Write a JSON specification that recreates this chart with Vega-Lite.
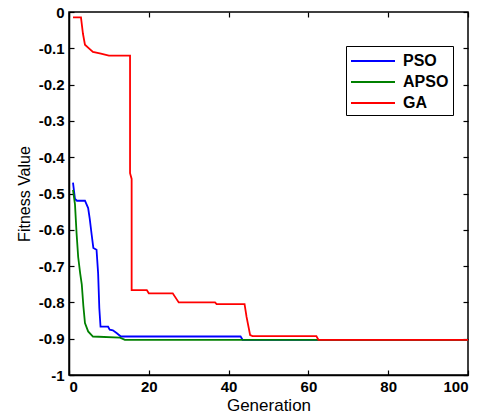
{
  "$schema": "https://vega.github.io/schema/vega-lite/v6.json",
  "autosize": {"type": "none"},
  "padding": {"left": 69, "top": 12, "right": 14, "bottom": 43},
  "width": 399,
  "height": 363,
  "background": "white",
  "config": {
    "view": {"stroke": "black", "strokeWidth": 1.5},
    "font": "Arial",
    "axis": {"grid": false, "domainColor": "black", "domainWidth": 1.5, "tickColor": "black", "labelColor": "black", "titleColor": "black", "labelFont": "Arial", "titleFont": "Arial", "labelFontSize": 15, "labelFontWeight": "bold", "titleFontSize": 16, "titleFontWeight": "normal", "tickSize": -5, "tickWidth": 1.2}
  },
  "data": {"values": [
    {"s": "PSO", "i": 1, "g": 1, "v": -0.47},
    {"s": "PSO", "i": 2, "g": 1.5, "v": -0.515},
    {"s": "PSO", "i": 3, "g": 2, "v": -0.52},
    {"s": "PSO", "i": 4, "g": 4, "v": -0.52},
    {"s": "PSO", "i": 5, "g": 4.8, "v": -0.54},
    {"s": "PSO", "i": 6, "g": 5.2, "v": -0.57},
    {"s": "PSO", "i": 7, "g": 5.7, "v": -0.615},
    {"s": "PSO", "i": 8, "g": 6.1, "v": -0.65},
    {"s": "PSO", "i": 9, "g": 6.9, "v": -0.655},
    {"s": "PSO", "i": 10, "g": 7.3, "v": -0.72},
    {"s": "PSO", "i": 11, "g": 7.6, "v": -0.816},
    {"s": "PSO", "i": 12, "g": 7.9, "v": -0.867},
    {"s": "PSO", "i": 13, "g": 9.8, "v": -0.867},
    {"s": "PSO", "i": 14, "g": 10.2, "v": -0.875},
    {"s": "PSO", "i": 15, "g": 11, "v": -0.877},
    {"s": "PSO", "i": 16, "g": 12, "v": -0.885},
    {"s": "PSO", "i": 17, "g": 13, "v": -0.894},
    {"s": "PSO", "i": 18, "g": 43, "v": -0.894},
    {"s": "PSO", "i": 19, "g": 43.5, "v": -0.903},
    {"s": "PSO", "i": 20, "g": 100, "v": -0.903},
    {"s": "APSO", "i": 1, "g": 1, "v": -0.49},
    {"s": "APSO", "i": 2, "g": 1.5, "v": -0.53},
    {"s": "APSO", "i": 3, "g": 1.9, "v": -0.61},
    {"s": "APSO", "i": 4, "g": 2.3, "v": -0.675},
    {"s": "APSO", "i": 5, "g": 2.8, "v": -0.72},
    {"s": "APSO", "i": 6, "g": 3.2, "v": -0.75},
    {"s": "APSO", "i": 7, "g": 3.6, "v": -0.81},
    {"s": "APSO", "i": 8, "g": 4, "v": -0.857},
    {"s": "APSO", "i": 9, "g": 4.8, "v": -0.88},
    {"s": "APSO", "i": 10, "g": 6, "v": -0.894},
    {"s": "APSO", "i": 11, "g": 12.8, "v": -0.897},
    {"s": "APSO", "i": 12, "g": 14, "v": -0.903},
    {"s": "APSO", "i": 13, "g": 100, "v": -0.903},
    {"s": "GA", "i": 1, "g": 1, "v": -0.015},
    {"s": "GA", "i": 2, "g": 3, "v": -0.015},
    {"s": "GA", "i": 3, "g": 3.5, "v": -0.06},
    {"s": "GA", "i": 4, "g": 4, "v": -0.09},
    {"s": "GA", "i": 5, "g": 5, "v": -0.1},
    {"s": "GA", "i": 6, "g": 6, "v": -0.11},
    {"s": "GA", "i": 7, "g": 8, "v": -0.115},
    {"s": "GA", "i": 8, "g": 10, "v": -0.12},
    {"s": "GA", "i": 9, "g": 15.3, "v": -0.12},
    {"s": "GA", "i": 10, "g": 15.3, "v": -0.444},
    {"s": "GA", "i": 11, "g": 15.7, "v": -0.46},
    {"s": "GA", "i": 12, "g": 15.7, "v": -0.766},
    {"s": "GA", "i": 13, "g": 19.5, "v": -0.766},
    {"s": "GA", "i": 14, "g": 20, "v": -0.775},
    {"s": "GA", "i": 15, "g": 26, "v": -0.775},
    {"s": "GA", "i": 16, "g": 27.5, "v": -0.8},
    {"s": "GA", "i": 17, "g": 36.6, "v": -0.8},
    {"s": "GA", "i": 18, "g": 37, "v": -0.805},
    {"s": "GA", "i": 19, "g": 44, "v": -0.805},
    {"s": "GA", "i": 20, "g": 44.5, "v": -0.84},
    {"s": "GA", "i": 21, "g": 45.4, "v": -0.89},
    {"s": "GA", "i": 22, "g": 46, "v": -0.893},
    {"s": "GA", "i": 23, "g": 62, "v": -0.893},
    {"s": "GA", "i": 24, "g": 62.5, "v": -0.903},
    {"s": "GA", "i": 25, "g": 100, "v": -0.903}
  ]},
  "layer": [
    {
      "mark": {"type": "line", "strokeWidth": 1.8, "clip": true},
      "encoding": {
        "x": {"field": "g", "type": "quantitative", "scale": {"domain": [0, 100], "nice": false, "zero": false},
              "axis": {"values": [0, 20, 40, 60, 80, 100], "title": "Generation", "titleFontSize": 17, "labelPadding": 9, "titlePadding": 3}},
        "y": {"field": "v", "type": "quantitative", "scale": {"domain": [-1, 0], "nice": false, "zero": false},
              "axis": {"values": [0, -0.1, -0.2, -0.3, -0.4, -0.5, -0.6, -0.7, -0.8, -0.9, -1], "labelExpr": "'' + datum.value", "title": "Fitness Value", "labelPadding": 10, "titlePadding": 6}},
        "color": {"field": "s", "type": "nominal",
                  "scale": {"domain": ["PSO", "APSO", "GA"], "range": ["#0000ff", "#008000", "#ff0000"]},
                  "legend": {"orient": "none", "legendX": 277, "legendY": 34, "title": null, "strokeColor": "black", "fillColor": "white", "padding": 4, "symbolType": "M-2.2,0H2.2", "symbolSize": 400, "symbolStrokeWidth": 2, "symbolOffset": 12, "labelOffset": 19, "labelFontSize": 16, "labelFontWeight": "bold", "labelFont": "Arial", "labelColor": "black", "rowPadding": 2}},
        "order": {"field": "i", "type": "quantitative"}
      }
    },
    {
      "mark": {"type": "point", "opacity": 0},
      "encoding": {
        "x": {"field": "g", "type": "quantitative", "axis": {"orient": "top", "values": [0, 20, 40, 60, 80, 100], "labels": false, "title": null, "domain": false}},
        "y": {"field": "v", "type": "quantitative", "axis": {"orient": "right", "values": [0, -0.1, -0.2, -0.3, -0.4, -0.5, -0.6, -0.7, -0.8, -0.9, -1], "labels": false, "title": null, "domain": false}}
      }
    }
  ],
  "resolve": {"axis": {"x": "independent", "y": "independent"}}
}
